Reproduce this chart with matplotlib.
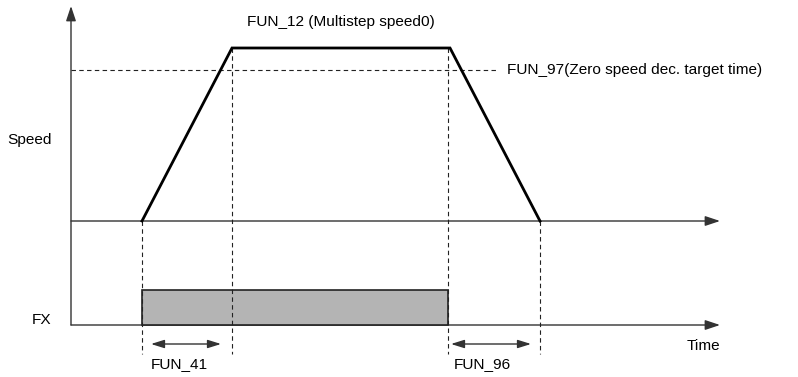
import matplotlib.pyplot as plt
from matplotlib.patches import Rectangle, FancyArrowPatch

plt.rcParams['font.family'] = ['Liberation Sans', 'DejaVu Sans']

# diagram values (pixel-like units, y grows downward)
speed_t = [142, 232, 450, 540]        # accel start, reach speed, decel start, stop
speed_v = [221, 48, 48, 221]          # zero level at 221, FUN_12 level at 48
target_level = 70                     # FUN_97 dashed level
fx_on, fx_off = 142, 448
fx_low, fx_high = 325, 290
speed_zero = 221
axis_x0, axis_x1 = 71, 720
axis_top = 6

fig = plt.figure(figsize=(7.98, 3.77), dpi=100)
ax = fig.add_axes([0, 0, 1, 1])
ax.set_xlim(0, 798)
ax.set_ylim(377, 0)
ax.axis('off')

ac = '#333333'
def arrow(p0, p1, style='-|>', lw=1.0, hl=6, hw=2.5, color=ac):
    a = FancyArrowPatch(p0, p1, arrowstyle=f'{style},head_length={hl},head_width={hw}',
                        mutation_scale=1, lw=lw, color=color, shrinkA=0, shrinkB=0)
    ax.add_patch(a)

# axes
arrow((axis_x0, fx_low), (axis_x0, axis_top), hl=9, hw=3)
arrow((axis_x0, speed_zero), (axis_x1, speed_zero), hl=9, hw=3)
arrow((axis_x0, fx_low), (axis_x1, fx_low), hl=9, hw=3)

# FX signal
ax.add_patch(Rectangle((fx_on, fx_high), fx_off - fx_on, fx_low - fx_high,
                       facecolor='#b4b4b4', edgecolor='#222222', lw=1.2))

# dashed guides
ax.plot([axis_x0, 498], [target_level, target_level], ls=(0, (4, 3)), color='#222222', lw=0.8)
for x, y0 in zip(speed_t, speed_v):
    ax.plot([x if x != 450 else fx_off] * 2, [y0, 354], ls=(0, (4, 3)), color='#222222', lw=0.8)

# speed profile
ax.plot(speed_t, speed_v, color='black', lw=2.0, solid_joinstyle='miter')

# time span arrows
arrow((151, 344), (221, 344), style='<|-|>', hl=8, hw=2.5)
arrow((451, 344), (531, 344), style='<|-|>', hl=8, hw=2.5)

fs = 11.1
ax.text(341, 22, 'FUN_12 (Multistep speed0)', ha='center', va='center', fontsize=fs)
ax.text(507, 70, 'FUN_97(Zero speed dec. target time)', ha='left', va='center', fontsize=fs)
ax.text(7, 140, 'Speed', ha='left', va='center', fontsize=fs)
ax.text(32, 320, 'FX', ha='left', va='center', fontsize=fs)
ax.text(151, 364, 'FUN_41', ha='left', va='center', fontsize=fs)
ax.text(454, 364, 'FUN_96', ha='left', va='center', fontsize=fs)
ax.text(720, 346, 'Time', ha='right', va='center', fontsize=fs)

fig.savefig('out.png', dpi=100)
